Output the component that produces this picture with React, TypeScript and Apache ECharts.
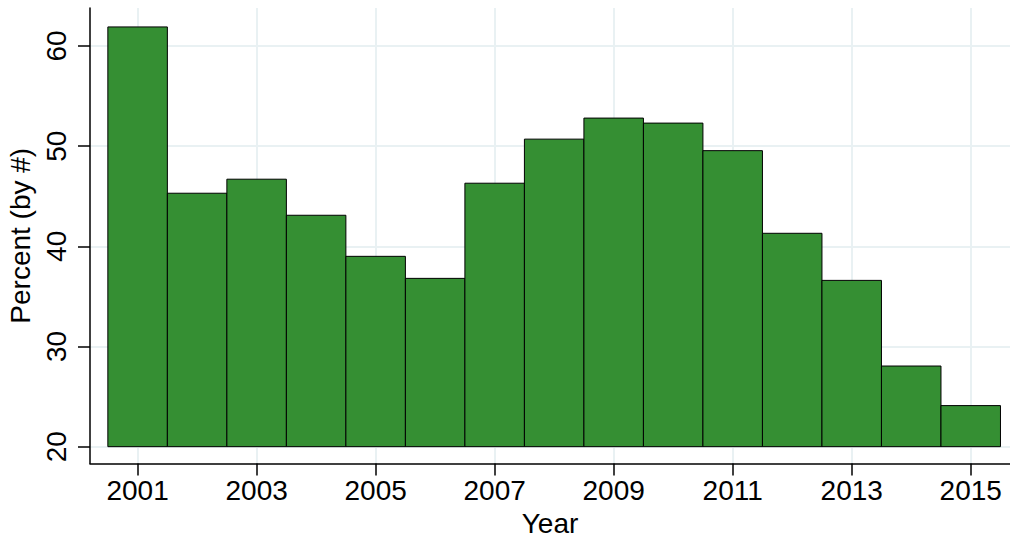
import React, { useEffect, useRef } from "react";
import * as echarts from "echarts";

const years = [2001, 2002, 2003, 2004, 2005, 2006, 2007, 2008, 2009, 2010, 2011, 2012, 2013, 2014, 2015];
const percentByCount = [61.9, 45.3, 46.7, 43.1, 39.0, 36.8, 46.3, 50.7, 52.8, 52.3, 49.55, 41.3, 36.6, 28.05, 24.1];
const xTickYears = [2001, 2003, 2005, 2007, 2009, 2011, 2013, 2015];
const yTickValues = [20, 30, 40, 50, 60];
const BAR_BASE = 20;

const FONT = "'Liberation Sans', Arial, Helvetica, sans-serif";
const BAR_FILL = "#358f33";
const GRID_COLOR = "#e9f1f3";

export default function App() {
  const ref = useRef<HTMLDivElement | null>(null);

  useEffect(() => {
    if (!ref.current) return;
    const chart = echarts.init(ref.current, undefined, { renderer: "svg" });
    const data = years.map((y, i) => [y, percentByCount[i]]);
    chart.setOption({
      animation: false,
      backgroundColor: "#ffffff",
      grid: {
        left: 90,
        right: 0,
        top: 8,
        bottom: 75.5,
        containLabel: false,
        outerBoundsMode: "none",
      },
      xAxis: {
        type: "value",
        min: 2000.2,
        max: 2015.66,
        name: "Year",
        nameLocation: "middle",
        nameGap: 45,
        nameTextStyle: { fontFamily: FONT, fontSize: 28, color: "#000" },
        axisLine: { show: true, onZero: false, lineStyle: { color: "#000", width: 1.5 } },
        axisTick: { show: true, length: 12, customValues: xTickYears, lineStyle: { color: "#000", width: 1.5 } },
        axisLabel: {
          customValues: xTickYears,
          margin: 13,
          fontFamily: FONT,
          fontSize: 28,
          color: "#000",
          formatter: (v: number) => String(Math.round(v)),
        },
        splitLine: { show: true, lineStyle: { color: GRID_COLOR, width: 2 } },
      },
      yAxis: {
        type: "value",
        min: 18.32,
        max: 63.79,
        name: "Percent (by #)",
        nameLocation: "middle",
        nameGap: 51,
        nameTextStyle: { fontFamily: FONT, fontSize: 28, color: "#000" },
        axisLine: { show: true, onZero: false, lineStyle: { color: "#000", width: 1.5 } },
        axisTick: { show: true, length: 12, customValues: yTickValues, lineStyle: { color: "#000", width: 1.5 } },
        axisLabel: {
          customValues: yTickValues,
          rotate: 90,
          margin: 20,
          fontFamily: FONT,
          fontSize: 28,
          color: "#000",
          formatter: (v: number) => String(Math.round(v)),
        },
        splitLine: { show: true, lineStyle: { color: GRID_COLOR, width: 2 } },
      },
      series: [
        {
          type: "custom",
          data,
          encode: { x: 0, y: 1 },
          renderItem: (params: any, api: any) => {
            const x = api.value(0);
            const v = api.value(1);
            const p0 = api.coord([x - 0.5, v]);
            const p1 = api.coord([x + 0.5, BAR_BASE]);
            return {
              type: "rect",
              shape: { x: p0[0], y: p0[1], width: p1[0] - p0[0], height: p1[1] - p0[1] },
              style: { fill: BAR_FILL, stroke: "#000", lineWidth: 1 },
            };
          },
        },
      ],
    });
    return () => chart.dispose();
  }, []);

  return (
    <div
      ref={ref}
      style={{ position: "fixed", left: 0, top: 0, width: 1010, height: 539 }}
    />
  );
}
